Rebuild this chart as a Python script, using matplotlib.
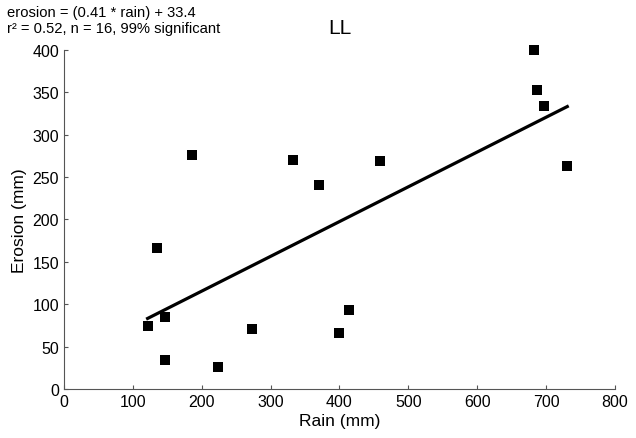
import matplotlib
matplotlib.use("Agg")
import matplotlib.pyplot as plt
import numpy as np

plt.rcParams['font.family'] = ['Liberation Sans', 'DejaVu Sans']

rain = [186, 332, 134.5, 146.6, 121.4, 272.8, 146.6, 223.7,
        459, 370.7, 413.4, 400, 682, 687, 697, 730.7]
erosion = [276, 270, 166, 84.5, 74.3, 70.8, 34.6, 25.6,
           268.5, 240.4, 93.2, 65.7, 400, 352.6, 334, 263]
slope = 0.41
intercept = 33.4
x_ticks = [0, 100, 200, 300, 400, 500, 600, 700, 800]
y_ticks = [0, 50, 100, 150, 200, 250, 300, 350, 400]

fig = plt.figure(figsize=(6.36, 4.39), dpi=100)
ax = fig.add_axes([0.1006, 0.1116, 0.8664, 0.7729])

ax.scatter(rain, erosion, marker='s', s=62, color='black', zorder=3,
           linewidths=0, clip_on=False)
xs = np.array([min(rain), max(rain)])
ax.plot(xs, slope * xs + intercept, color='black', lw=2.3, zorder=2)

ax.set_xlim(0, 800)
ax.set_ylim(0, 400)
ax.set_xticks(x_ticks)
ax.set_yticks(y_ticks)
ax.tick_params(direction='in', length=3, labelsize=11.5, color='#555555', width=0.8)
for side in ('top', 'right'):
    ax.spines[side].set_visible(False)
for side in ('left', 'bottom'):
    ax.spines[side].set_color('#555555')
    ax.spines[side].set_linewidth(0.8)

ax.set_xlabel('Rain (mm)', fontsize=12.5, labelpad=3)
ax.set_ylabel('Erosion (mm)', fontsize=12.5, labelpad=4)
ax.set_title('LL', fontsize=15, pad=12)

fig.text(0.011, 0.961, 'erosion = (0.41 * rain) + 33.4', fontsize=10.6, va='baseline')
fig.text(0.011, 0.924, 'r² = 0.52, n = 16, 99% significant', fontsize=10.6, va='baseline')

fig.savefig('out.png', dpi=100)
